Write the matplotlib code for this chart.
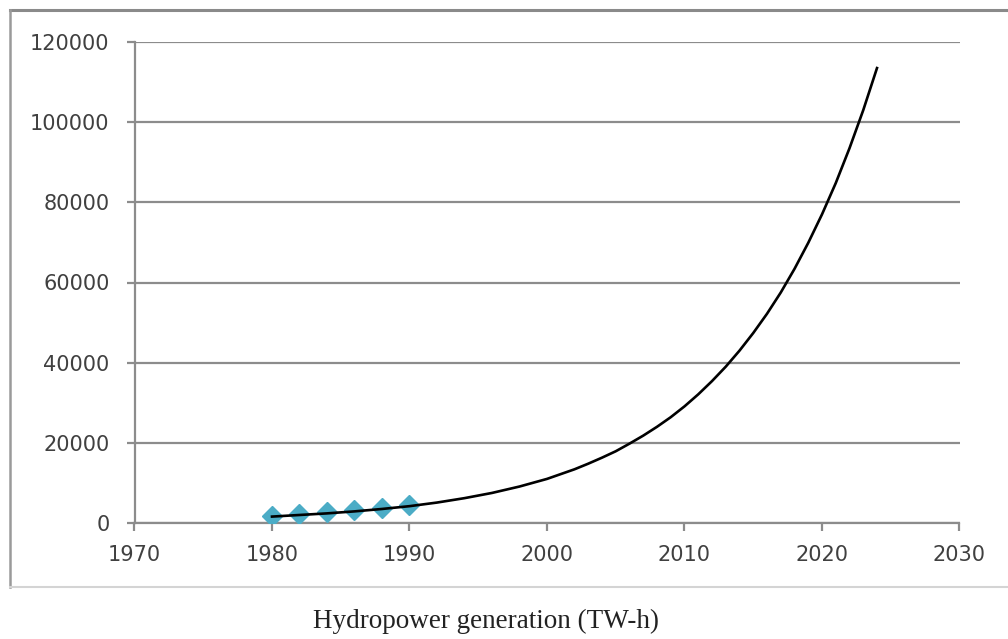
import matplotlib
matplotlib.use('Agg')
import matplotlib.pyplot as plt
from matplotlib.lines import Line2D

# =========================
# DATA
# =========================
obs_years = [1980, 1982, 1984, 1986, 1988, 1990]
obs_values = [1800, 2300, 2800, 3300, 3800, 4400]

trend_years = [1980, 1982, 1984, 1986, 1988, 1990, 1992, 1994, 1996, 1998,
               2000, 2001, 2002, 2003, 2004, 2005, 2006, 2007, 2008, 2009,
               2010, 2011, 2012, 2013, 2014, 2015, 2016, 2017, 2018, 2019,
               2020, 2021, 2022, 2023, 2024]
trend_values = [1600, 2000, 2400, 2900, 3500, 4200, 5100, 6200, 7500, 9100,
                11000, 12200, 13400, 14800, 16300, 17900, 19800, 21800, 24000, 26400,
                29100, 32100, 35400, 39000, 43000, 47400, 52200, 57500, 63400, 69900,
                77000, 84800, 93500, 103000, 113500]

x_ticks = [1970, 1980, 1990, 2000, 2010, 2020, 2030]
y_ticks = [0, 20000, 40000, 60000, 80000, 100000, 120000]

caption = "Hydropower generation (TW-h)"

GRID = "#8c8c8c"
TICK_TXT = "#404040"
MARKER = "#4bacc6"

fig = plt.figure(figsize=(10.08, 6.39), dpi=100)
W, H = 1008, 639

# outer chart frame (Excel style)
fig.add_artist(Line2D([10 / W, 1.0], [1 - 10 / H, 1 - 10 / H], color="#8a8a8a", lw=2.2))
fig.add_artist(Line2D([10 / W, 10 / W], [1 - 10 / H, 1 - 587 / H], color="#9a9a9a", lw=1.8))
fig.add_artist(Line2D([10 / W, 1.0], [1 - 587 / H, 1 - 587 / H], color="#d4d4d4", lw=1.5))

ax = fig.add_axes([134.5 / W, 1 - 523 / H, 825 / W, 481 / H])

ax.plot(obs_years, obs_values, linestyle="none", marker="D", markersize=10.5,
        color=MARKER, zorder=3)
ax.plot(trend_years, trend_values, color="black", linewidth=1.9, zorder=4)

ax.set_xlim(1970, 2030)
ax.set_ylim(0, 120000)
ax.set_xticks(x_ticks)
ax.set_yticks(y_ticks)

ax.grid(axis="y", color=GRID, linewidth=1.6)
ax.set_axisbelow(True)
for side in ["top", "right"]:
    ax.spines[side].set_visible(False)
for side in ["left", "bottom"]:
    ax.spines[side].set_color(GRID)
    ax.spines[side].set_linewidth(1.6)

ax.tick_params(axis="both", colors=GRID, width=1.6, length=6, direction="out",
               labelcolor=TICK_TXT, labelsize=15)
ax.tick_params(axis="x", pad=10)
ax.tick_params(axis="y", pad=12)
for lab in ax.get_xticklabels() + ax.get_yticklabels():
    lab.set_fontfamily("DejaVu Sans")

fig.text(486 / W, 1 - 621 / H, caption, ha="center", va="center",
         fontsize=19.5, family="Liberation Serif", color="#222222")

plt.savefig("out.png", dpi=100)
plt.close()
